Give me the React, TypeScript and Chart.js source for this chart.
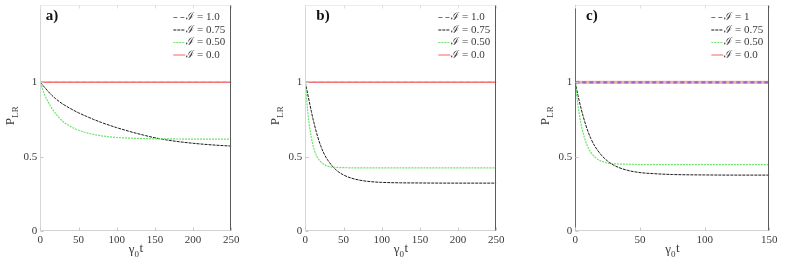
import React, { useEffect, useRef } from "react";
import { Chart, registerables } from "chart.js";

Chart.register(...registerables);

// ---------- data ----------
// panel a)
const timeA = [0, 5, 10, 15, 20, 25, 30, 40, 50, 60, 70, 80, 90, 100, 110, 120, 135, 150, 175, 200, 225, 250];
const blackA = [1.0, 0.97, 0.94, 0.913, 0.89, 0.87, 0.852, 0.822, 0.795, 0.772, 0.75, 0.73, 0.712, 0.695, 0.68, 0.665, 0.645, 0.627, 0.605, 0.59, 0.579, 0.571];
const greenA = [1.0, 0.925, 0.87, 0.826, 0.79, 0.76, 0.735, 0.702, 0.678, 0.661, 0.649, 0.64, 0.634, 0.629, 0.626, 0.624, 0.622, 0.62, 0.619, 0.618, 0.618, 0.618];
// panel b)
const timeB = [0, 2, 4, 5, 6, 8, 10, 12, 15, 20, 25, 30, 40, 50, 60, 70, 80, 90, 100, 125, 150, 200, 250];
const blackB = [1.0, 0.95, 0.9, 0.875, 0.85, 0.802, 0.755, 0.714, 0.655, 0.575, 0.515, 0.472, 0.412, 0.377, 0.356, 0.343, 0.335, 0.33, 0.327, 0.324, 0.323, 0.322, 0.322];
const greenB = [1.0, 0.87, 0.765, 0.722, 0.685, 0.625, 0.578, 0.542, 0.503, 0.466, 0.446, 0.435, 0.428, 0.426, 0.425, 0.425, 0.425, 0.425, 0.425, 0.425, 0.425, 0.425, 0.425];
// panel c)
const timeC = [0, 1, 2, 3, 4, 6, 8, 10, 12, 15, 20, 25, 30, 40, 50, 60, 75, 100, 125, 150];
const blackC = [1.0, 0.956, 0.914, 0.876, 0.84, 0.774, 0.715, 0.665, 0.622, 0.572, 0.512, 0.47, 0.441, 0.409, 0.393, 0.386, 0.38, 0.377, 0.376, 0.376];
const greenC = [1.0, 0.919, 0.85, 0.79, 0.74, 0.66, 0.602, 0.56, 0.529, 0.498, 0.47, 0.457, 0.452, 0.449, 0.447, 0.447, 0.447, 0.447, 0.447, 0.447];
// I = 1.0 and I = 0.0 stay at 1
const unityTimeAB = [0, 250];
const unityTimeC = [0, 150];
const unityValues = [1, 1];

const legendAB = ["ℐ = 1.0", "ℐ = 0.75", "ℐ = 0.50", "ℐ = 0.0"];
const legendC = ["ℐ = 1", "ℐ = 0.75", "ℐ = 0.50", "ℐ = 0.0"];
const xTicksAB = [0, 50, 100, 150, 200, 250];
const xTicksC = [0, 50, 100, 150];
const yTicks = [0, 0.5, 1];

const SERIF = '"Liberation Serif", "DejaVu Serif", serif';
const TEXT = "#3a3a3a";

const pts = (t: number[], v: number[]) => t.map((x, i) => ({ x, y: v[i] }));

const decorPlugin = {
  id: "decor",
  afterDraw(chart: any, _a: any, o: any) {
    const { ctx, chartArea: ca, scales } = chart;
    const xs = scales.x;
    const ys = scales.y;
    const L = Math.round(ca.left) + 0.5;
    const R = Math.round(ca.right) - 0.5;
    const T = Math.round(ca.top) + 0.5;
    const B = Math.round(ca.bottom) - 0.5;
    ctx.save();
    const seg = (x1: number, y1: number, x2: number, y2: number, c: string, w = 1) => {
      ctx.beginPath();
      ctx.strokeStyle = c;
      ctx.lineWidth = w;
      ctx.setLineDash([]);
      ctx.moveTo(x1, y1);
      ctx.lineTo(x2, y2);
      ctx.stroke();
    };
    seg(L, T, R, T, "#ececec");
    seg(L, B, R, B, "#d2d2d2");
    seg(L, T, L, B, o.leftColor);
    seg(R, T, R, B, "#5a5a5a");
    for (const v of o.xTicks) {
      const px = Math.round(xs.getPixelForValue(v)) + 0.5;
      seg(px, B, px, B - 3, "#c8c8c8");
      seg(px, T, px, T + 3, "#dddddd");
    }
    for (const v of yTicks) {
      const py = Math.round(ys.getPixelForValue(v)) + 0.5;
      seg(L, py, L + 3, py, "#c8c8c8");
    }

    // panel label
    ctx.fillStyle = "#111";
    ctx.font = `bold 15px ${SERIF}`;
    ctx.textAlign = "left";
    ctx.textBaseline = "alphabetic";
    ctx.fillText(o.panel, ca.left + o.labelDx, 19.5);

    // legend
    ctx.font = `11px ${SERIF}`;
    const ds = chart.data.datasets;
    let maxW = 0;
    ds.forEach((d: any) => (maxW = Math.max(maxW, ctx.measureText(d.label).width)));
    const tx = ca.right - 6 - maxW;
    ds.forEach((d: any, i: number) => {
      const yy = 17 + i * 12.5;
      ctx.beginPath();
      ctx.strokeStyle = d.legendColor || d.borderColor;
      ctx.lineWidth = 1.1;
      ctx.setLineDash(d.borderDash || []);
      ctx.moveTo(tx - 13, yy + 0.5);
      ctx.lineTo(tx - 1, yy + 0.5);
      ctx.stroke();
      ctx.setLineDash([]);
      ctx.fillStyle = TEXT;
      ctx.textBaseline = "middle";
      ctx.fillText(d.label, tx, yy + 0.5);
    });

    // x title: gamma_0 t
    ctx.textBaseline = "alphabetic";
    const bigF = `13px ${SERIF}`;
    const smallF = `9px ${SERIF}`;
    ctx.font = bigF;
    const wg = ctx.measureText("γ").width;
    const wt = ctx.measureText("t").width;
    ctx.font = smallF;
    const w0 = ctx.measureText("0").width;
    let cx = (ca.left + ca.right) / 2 - (wg + w0 + wt) / 2;
    ctx.fillStyle = TEXT;
    ctx.font = bigF;
    ctx.fillText("γ", cx, 253);
    cx += wg;
    ctx.font = smallF;
    ctx.fillText("0", cx, 257);
    cx += w0 + 0.5;
    ctx.font = bigF;
    ctx.fillText("t", cx, 252);

    // y title: P_LR
    ctx.save();
    ctx.translate(ca.left - 26, 116);
    ctx.rotate(-Math.PI / 2);
    ctx.font = bigF;
    const wp = ctx.measureText("P").width;
    ctx.font = smallF;
    const wl = ctx.measureText("LR").width;
    let sx = -(wp + wl) / 2;
    ctx.font = bigF;
    ctx.fillText("P", sx, 0);
    sx += wp + 0.5;
    ctx.font = smallF;
    ctx.fillText("LR", sx, 4);
    ctx.restore();

    ctx.restore();
  },
};

type Panel = {
  left: number;
  padLeft: number;
  padRight: number;
  xMax: number;
  panel: string;
  labelDx: number;
  leftColor: string;
  xTicks: number[];
  legend: string[];
  time: number[];
  black: number[];
  green: number[];
  unityTime: number[];
  blueOnTop: boolean;
};

const panels: Panel[] = [
  { left: 0, padLeft: 40.3, padRight: 31.7, xMax: 250, panel: "a)", labelDx: 5.5, leftColor: "#d6d6d6", xTicks: xTicksAB, legend: legendAB, time: timeA, black: blackA, green: greenA, unityTime: unityTimeAB, blueOnTop: false },
  { left: 263, padLeft: 42.3, padRight: 29.7, xMax: 250, panel: "b)", labelDx: 11, leftColor: "#d6d6d6", xTicks: xTicksAB, legend: legendAB, time: timeB, black: blackB, green: greenB, unityTime: unityTimeAB, blueOnTop: false },
  { left: 526, padLeft: 49.3, padRight: 19.7, xMax: 150, panel: "c)", labelDx: 10.7, leftColor: "#6a6a6a", xTicks: xTicksC, legend: legendC, time: timeC, black: blackC, green: greenC, unityTime: unityTimeC, blueOnTop: true },
];

function PanelChart({ p }: { p: Panel }) {
  const ref = useRef<HTMLCanvasElement>(null);
  useEffect(() => {
    if (!ref.current) return;
    const redC = p.blueOnTop ? "rgba(243,150,150,0.8)" : "#f27474";
    const chart = new Chart(ref.current, {
      type: "line",
      data: {
        datasets: [
          {
            label: p.legend[0],
            data: pts(p.unityTime, unityValues),
            borderColor: p.blueOnTop ? "rgba(110,90,205,0.75)" : "#6262ee",
            legendColor: "#6262ee",
            borderWidth: p.blueOnTop ? 2.2 : 1.2,
            borderDash: [4, 3],
            order: p.blueOnTop ? 0 : 3,
          } as any,
          {
            label: p.legend[1],
            data: pts(p.time, p.black),
            borderColor: "#1a1a1a",
            borderWidth: 1,
            borderDash: [3, 1],
            order: 2,
          },
          {
            label: p.legend[2],
            data: pts(p.time, p.green),
            borderColor: "#6ce46c",
            borderWidth: 1.2,
            borderDash: [2, 1],
            order: 1,
          },
          {
            label: p.legend[3],
            data: pts(p.unityTime, unityValues),
            borderColor: redC,
            legendColor: "#f27474",
            borderWidth: p.blueOnTop ? 3 : 1.6,
            order: p.blueOnTop ? 3 : 0,
          } as any,
        ],
      },
      options: {
        animation: false,
        responsive: false,
        devicePixelRatio: 1,
        events: [],
        layout: { padding: { left: 0, right: p.padRight, top: 5, bottom: 0 } },
        elements: { point: { radius: 0 }, line: { cubicInterpolationMode: "monotone" } },
        plugins: {
          legend: { display: false },
          tooltip: { enabled: false },
          decor: { panel: p.panel, labelDx: p.labelDx, leftColor: p.leftColor, xTicks: p.xTicks },
        } as any,
        scales: {
          x: {
            type: "linear",
            min: 0,
            max: p.xMax,
            grid: { display: false, drawTicks: false },
            border: { display: false },
            ticks: {
              autoSkip: false,
              maxRotation: 0,
              padding: 3,
              color: TEXT,
              font: { family: SERIF, size: 11 },
              callback: (v: any) => String(v),
            },
            afterBuildTicks: (s: any) => {
              s.ticks = p.xTicks.map((v) => ({ value: v }));
            },
            afterFit: (s: any) => {
              s.height = 35;
              s.paddingLeft = 0;
              s.paddingRight = 0;
            },
          },
          y: {
            type: "linear",
            min: 0,
            max: 1.52,
            grid: { display: false, drawTicks: false },
            border: { display: false },
            ticks: {
              padding: 3,
              color: TEXT,
              font: { family: SERIF, size: 11 },
              callback: (v: any) => String(v),
            },
            afterBuildTicks: (s: any) => {
              s.ticks = yTicks.map((v) => ({ value: v }));
            },
            afterFit: (s: any) => {
              s.width = p.padLeft;
              s.paddingTop = 0;
              s.paddingBottom = 0;
            },
          },
        },
      },
      plugins: [decorPlugin],
    });
    return () => chart.destroy();
  }, [p]);
  return (
    <canvas
      ref={ref}
      width={263}
      height={266}
      style={{ position: "absolute", left: p.left, top: 0, width: 263, height: 266 }}
    />
  );
}

export default function App() {
  return (
    <div style={{ position: "fixed", left: 0, top: 0, width: 789, height: 266, background: "#fff", overflow: "hidden" }}>
      {panels.map((p) => (
        <PanelChart key={p.panel} p={p} />
      ))}
    </div>
  );
}
